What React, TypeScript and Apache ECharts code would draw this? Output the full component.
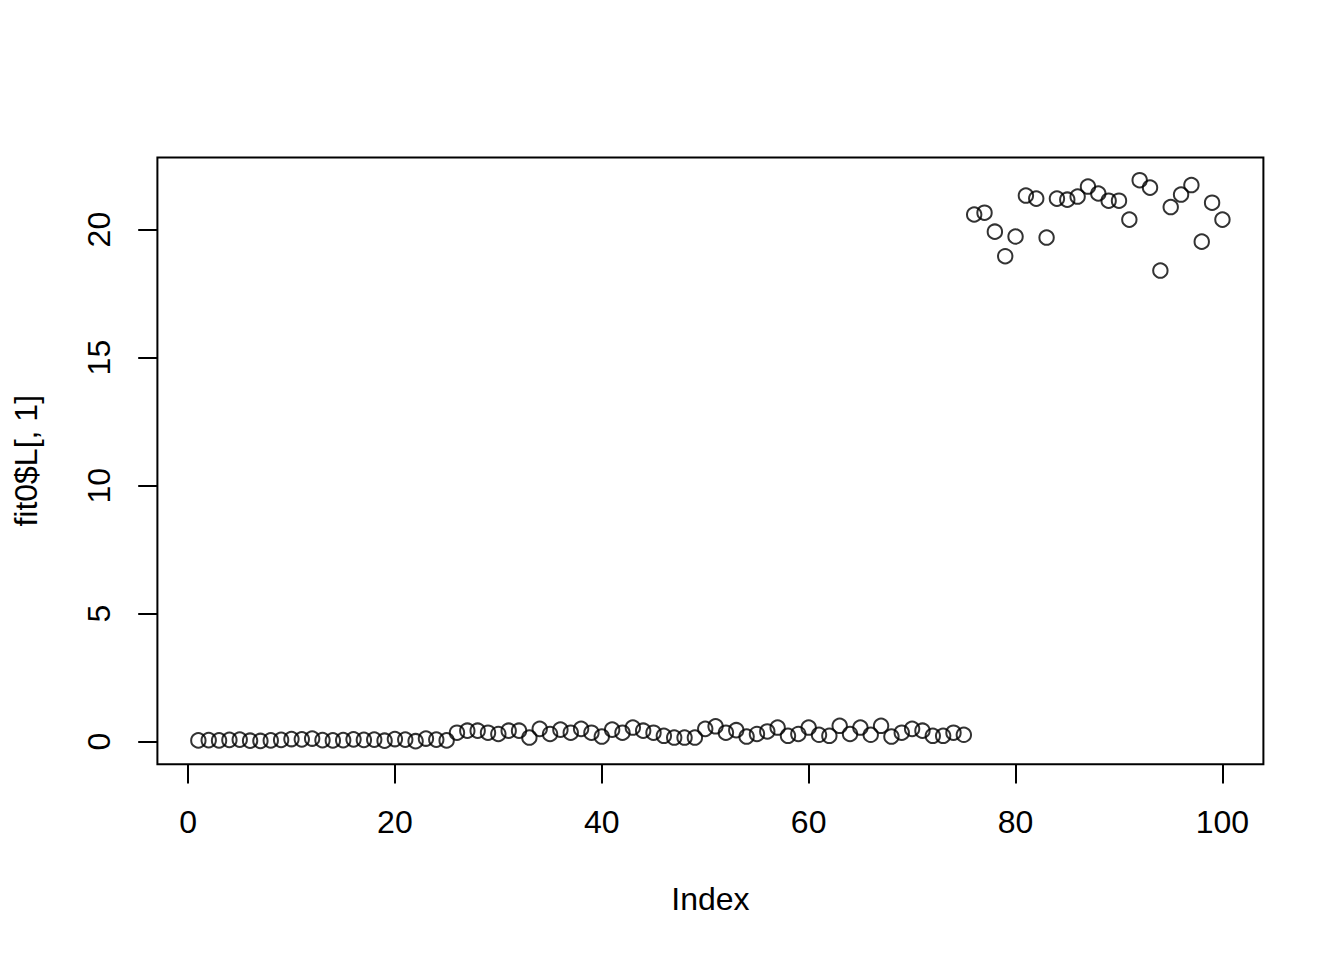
import React, { useEffect, useRef } from "react";
import * as echarts from "echarts";

const lowValues: number[] = [
  0.05, 0.06, 0.05, 0.07, 0.08, 0.04, 0.03, 0.05, 0.07, 0.1,
  0.09, 0.12, 0.06, 0.05, 0.06, 0.09, 0.07, 0.08, 0.04, 0.1,
  0.08, 0.02, 0.12, 0.08, 0.05,
];
const midValues: number[] = [
  0.35, 0.43, 0.43, 0.35, 0.3, 0.43, 0.43, 0.16, 0.5, 0.3,
  0.47, 0.35, 0.5, 0.35, 0.2, 0.47, 0.35, 0.55, 0.43, 0.35,
  0.23, 0.16, 0.16, 0.16, 0.5, 0.6, 0.35, 0.45, 0.2, 0.3,
  0.4, 0.55, 0.23, 0.3, 0.55, 0.27, 0.23, 0.62, 0.3, 0.55,
  0.27, 0.62, 0.2, 0.35, 0.5, 0.43, 0.23, 0.23, 0.35, 0.27,
];
const highValues: number[] = [
  20.59, 20.66, 19.92, 18.96, 19.73, 21.33, 21.21, 19.69, 21.21, 21.17,
  21.29, 21.68, 21.41, 21.13, 21.13, 20.39, 21.93, 21.64, 18.4, 20.88,
  21.37, 21.74, 19.53, 21.05, 20.39,
];
const xTicks: number[] = [0, 20, 40, 60, 80, 100];
const yTicks: number[] = [0, 5, 10, 15, 20];
const xLabel = "Index";
const yLabel = "fit0$L[, 1]";

const allValues = [...lowValues, ...midValues, ...highValues];
const points = allValues.map((v, i) => [i + 1, v]);

const FONT = "'Liberation Sans', Arial, Helvetica, sans-serif";

export default function App() {
  const ref = useRef<HTMLDivElement>(null);
  useEffect(() => {
    if (!ref.current) return;
    const chart = echarts.init(ref.current, undefined, { renderer: "svg" });
    chart.setOption({
      animation: false,
      backgroundColor: "#ffffff",
      grid: {
        left: 157.4,
        top: 157.4,
        width: 1106,
        height: 606.8,
        show: true,
        borderColor: "#000",
        borderWidth: 2,
        backgroundColor: "transparent",
      },
      xAxis: {
        type: "value",
        min: -2.96,
        max: 103.96,
        name: xLabel,
        nameLocation: "middle",
        nameGap: 119,
        nameTextStyle: { fontSize: 32, color: "#000", fontFamily: FONT },
        axisLine: { show: false, onZero: false },
        splitLine: { show: false },
        axisTick: {
          show: true,
          length: 19.2,
          lineStyle: { color: "#000", width: 2 },
          customValues: xTicks,
        },
        axisLabel: {
          show: true,
          margin: 42,
          fontSize: 32,
          color: "#000",
          fontFamily: FONT,
          customValues: xTicks,
          showMinLabel: true,
          showMaxLabel: true,
        },
      },
      yAxis: {
        type: "value",
        min: -0.88,
        max: 22.82,
        name: yLabel,
        nameLocation: "middle",
        nameGap: 115,
        nameRotate: 90,
        nameTextStyle: { fontSize: 32, color: "#000", fontFamily: FONT },
        axisLine: { show: false, onZero: false },
        splitLine: { show: false },
        axisTick: {
          show: true,
          length: 19.2,
          lineStyle: { color: "#000", width: 2 },
          customValues: yTicks,
        },
        axisLabel: {
          show: true,
          rotate: 90,
          margin: 42,
          fontSize: 32,
          color: "#000",
          fontFamily: FONT,
          customValues: yTicks,
        },
      },
      series: [
        {
          type: "scatter",
          data: points,
          symbol: "circle",
          symbolSize: 14.4,
          itemStyle: {
            color: "rgba(0,0,0,0)",
            borderColor: "#000",
            borderWidth: 2,
          },
          emphasis: { disabled: true },
        },
      ],
    });
    return () => chart.dispose();
  }, []);
  return (
    <div
      ref={ref}
      style={{ position: "fixed", left: 0, top: 0, width: 1344, height: 960 }}
    />
  );
}
